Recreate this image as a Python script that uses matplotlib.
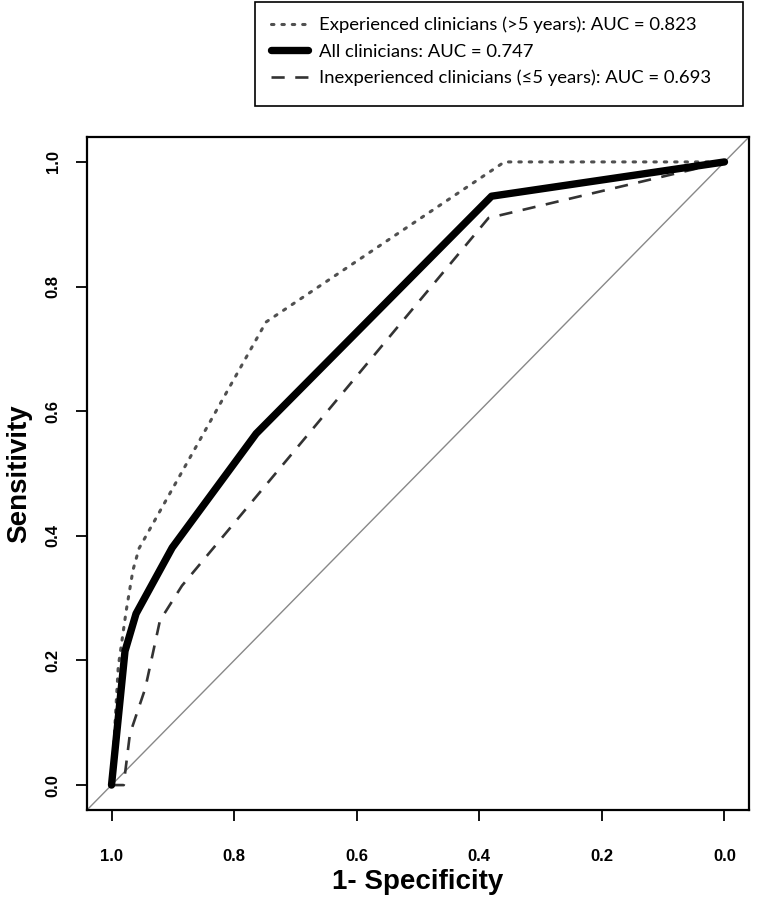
import matplotlib
matplotlib.use("Agg")
import matplotlib.pyplot as plt
from matplotlib.font_manager import FontProperties
from matplotlib.patches import Rectangle

# ROC points (x = specificity, drawn on a reversed axis)
spec_all = [1.0, 0.978, 0.960, 0.901, 0.764, 0.380, 0.0]
sens_all = [0.0, 0.215, 0.275, 0.381, 0.564, 0.945, 1.0]

spec_exp = [1.0, 0.989, 0.976, 0.965, 0.955, 0.748, 0.359, 0.0]
sens_exp = [0.0, 0.190, 0.280, 0.345, 0.380, 0.743, 1.0, 1.0]

spec_inexp = [1.0, 0.980, 0.978, 0.970, 0.945, 0.921, 0.885, 0.385, 0.0]
sens_inexp = [0.0, 0.0, 0.018, 0.082, 0.155, 0.264, 0.320, 0.910, 1.0]

labels = ["Experienced clinicians (>5 years): AUC = 0.823",
          "All clinicians: AUC = 0.747",
          "Inexperienced clinicians (\u22645 years): AUC = 0.693"]
ticks = [1.0, 0.8, 0.6, 0.4, 0.2, 0.0]

W, H = 762, 898
fig = plt.figure(figsize=(W / 100, H / 100), dpi=100)
ax = fig.add_axes([87 / W, 88 / H, 662 / W, 673 / H])

# chance line
ax.axline((1.0, 0.0), (0.0, 1.0), color="#888888", lw=1.0, zorder=1)

l_exp, = ax.plot(spec_exp, sens_exp, color="#505050", lw=2.2,
                 linestyle=(0, (0.8, 2.6)), dash_capstyle="round", zorder=3)
l_all, = ax.plot(spec_all, sens_all, color="black", lw=5.3,
                 solid_capstyle="round", solid_joinstyle="round", zorder=4)
l_inexp, = ax.plot(spec_inexp, sens_inexp, color="#333333", lw=1.9,
                   linestyle=(0, (5, 4)), zorder=3)

ax.set_xlim(1.04, -0.04)
ax.set_ylim(-0.04, 1.04)
ax.set_xticks(ticks)
ax.set_yticks(ticks)
ax.set_xticklabels([f"{t:.1f}" for t in ticks])
ax.set_yticklabels([f"{t:.1f}" for t in ticks], rotation=90, va="center")

tick_font = FontProperties(family=["Liberation Sans Narrow", "Liberation Sans"],
                           weight="bold", size=12)
for lab in ax.get_xticklabels() + ax.get_yticklabels():
    lab.set_fontproperties(tick_font)

ax.tick_params(axis="both", direction="out", length=8, width=1.3, color="black")
ax.tick_params(axis="x", pad=20)
ax.tick_params(axis="y", pad=11)
for s in ax.spines.values():
    s.set_linewidth(1.6)

ax.set_xlabel("1- Specificity", family="Liberation Sans", weight="bold",
              fontsize=20, labelpad=4)
ax.set_ylabel("Sensitivity", family="Liberation Sans", weight="bold",
              fontsize=20, labelpad=10)

# legend box above the plot
fig.patches.append(Rectangle((255 / W, 1 - 106 / H), 488 / W, 104 / H,
                             transform=fig.transFigure, fill=False,
                             edgecolor="black", lw=1.2))
fig.legend([l_exp, l_all, l_inexp], labels, loc="upper left",
           bbox_to_anchor=(258 / W, 1 - 4 / H), frameon=False,
           prop=dict(family="Lato", size=13.3), handlelength=2.0,
           handletextpad=0.62, labelspacing=0.55, borderpad=0.2)

fig.savefig("out.png", dpi=100)
